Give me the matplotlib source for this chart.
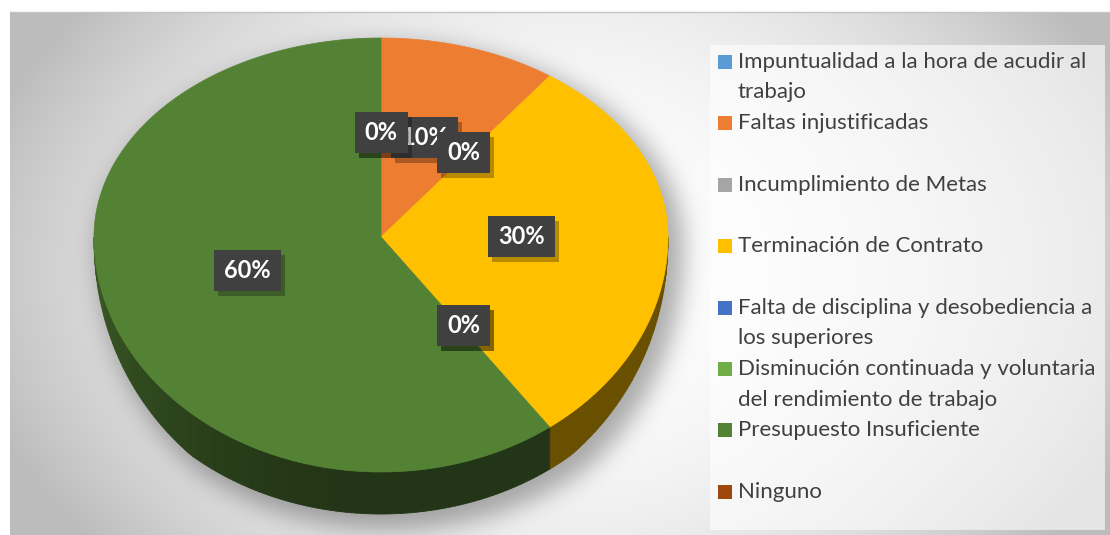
import numpy as np
import matplotlib
matplotlib.use("Agg")
import matplotlib.pyplot as plt
from matplotlib.patches import Polygon, Rectangle
from matplotlib.path import Path
import textwrap

# ---------------- data ----------------
categories = [
    "Impuntualidad a la hora de acudir al trabajo",
    "Faltas injustificadas",
    "Incumplimiento de Metas",
    "Terminación de Contrato",
    "Falta de disciplina y desobediencia a los superiores",
    "Disminución continuada y voluntaria del rendimiento de trabajo",
    "Presupuesto Insuficiente",
    "Ninguno",
]
values = [0, 10, 0, 30, 0, 0, 60, 0]
pct_labels = ["0%", "10%", "0%", "30%", "0%", "0%", "60%", "0%"]
colors = ["#5B9BD5", "#ED7D31", "#A5A5A5", "#FFC000",
          "#4472C4", "#70AD47", "#548235", "#9E480E"]

# ---------------- figure ----------------
W, H = 1110, 535
fig = plt.figure(figsize=(W / 100, H / 100), dpi=100)
ax = fig.add_axes([0, 0, 1, 1])
ax.set_xlim(0, W)
ax.set_ylim(H, 0)
ax.axis("off")

FONT = ["Lato", "DejaVu Sans"]

# pie geometry (pixel space)
cx, cy = 381, 237
a, b_top, b_bot = 287, 199, 235


def edge(theta):
    t = np.radians(theta)
    c = np.cos(t)
    x = cx + a * np.sin(t)
    y = cy - np.where(c >= 0, b_top, b_bot) * c
    return x, y


def depth(theta):
    t = np.radians(theta)
    return 42 * np.clip(-np.cos(t) / 0.75, 0, 1) ** 0.8


# ---------------- background ----------------
yy, xx = np.mgrid[0:H, 0:W] + 0.5
dx = (xx - 570) / 560
dy = (yy - 270) / 270
bg = 1 - 0.21 * dx ** 2 - 0.07 * dy ** 2 - 0.05 * (dx * dy) ** 2
bg = np.clip(bg, 0.74, 1.0)
inside = (xx >= 10) & (yy >= 12)
bg = np.where(inside, bg, 1.0)

# soft pie shadow
th = np.linspace(0, 360, 721)
ex, ey = edge(th)
ey_sil = np.where((th > 90) & (th < 270), ey + depth(th), ey)
sx = cx + (ex - cx) * 1.02 + 10
sy = cy + (ey_sil - cy) * 1.02 + 10
path = Path(np.column_stack([sx, sy]))
mask = path.contains_points(np.column_stack([xx.ravel(), yy.ravel()])).reshape(H, W).astype(float)
k = np.exp(-0.5 * (np.arange(-36, 37) / 12.0) ** 2)
k /= k.sum()
mask = np.apply_along_axis(lambda r: np.convolve(r, k, mode="same"), 1, mask)
mask = np.apply_along_axis(lambda c: np.convolve(c, k, mode="same"), 0, mask)
bg = bg * (1 - 0.32 * mask)
img = np.dstack([bg, bg, bg])
ax.imshow(img, extent=(0, W, H, 0), zorder=0, interpolation="bilinear")
ax.plot([10, W], [12, 12], color="#c4c4c4", lw=1, zorder=0.5)

# legend panel background
ax.add_patch(Rectangle((710, 45), 395, 485, facecolor="white", alpha=0.6,
                       edgecolor="none", zorder=1))

# ---------------- pie ----------------
total = float(sum(values))
starts = np.concatenate([[0], np.cumsum(values)[:-1]]) / total * 360
spans = np.array(values) / total * 360


def shade(hexcol, f):
    rgb = np.array(matplotlib.colors.to_rgb(hexcol))
    return tuple(rgb * f)


def side_factor(theta):
    return 0.41 + 0.31 * np.clip((theta - 190) / 80, 0, 1) ** 1.3


# sides
for s, sp, col in zip(starts, spans, colors):
    if sp <= 0:
        continue
    lo, hi = max(s, 90), min(s + sp, 270)
    if hi <= lo:
        continue
    n = max(2, int(hi - lo))
    tt = np.linspace(lo, hi, n + 1)
    for t1, t2 in zip(tt[:-1], tt[1:]):
        x1, y1 = edge(t1)
        x2, y2 = edge(t2)
        poly = [(x1, y1), (x2, y2), (x2, y2 + depth(t2)), (x1, y1 + depth(t1))]
        c = shade(col, side_factor((t1 + t2) / 2))
        ax.add_patch(Polygon(poly, closed=True, facecolor=c, edgecolor=c,
                             lw=0.6, zorder=2))

# top faces
for s, sp, col in zip(starts, spans, colors):
    if sp <= 0:
        continue
    tt = np.linspace(s, s + sp, max(3, int(sp * 2)))
    x, y = edge(tt)
    pts = [(cx, cy)] + list(zip(x, y))
    ax.add_patch(Polygon(pts, closed=True, facecolor=col, edgecolor=col,
                         lw=0.5, zorder=3))

# ---------------- data labels ----------------
fig.canvas.draw()
renderer = fig.canvas.get_renderer()
for i, (s, sp, lab) in enumerate(zip(starts, spans, pct_labels)):
    mid = s + sp / 2
    exm, eym = edge(mid)
    lx = cx + 0.49 * (exm - cx)
    ry = 0.52 if eym < cy else 0.47
    ly = cy + ry * (eym - cy) - 1
    z = 10 + i
    t = ax.text(lx, ly, lab, ha="center", va="center", color="white",
                fontsize=17, fontweight="bold", family=FONT, zorder=z + 0.5)
    bb = t.get_window_extent(renderer)
    w = bb.width + 20
    h = 41
    ax.add_patch(Rectangle((lx - w / 2 + 4, ly - h / 2 + 5), w, h,
                           facecolor="black", alpha=0.28, edgecolor="none",
                           zorder=z + 0.1))
    ax.add_patch(Rectangle((lx - w / 2, ly - h / 2), w, h,
                           facecolor="#404040", edgecolor="none",
                           zorder=z + 0.2))

# ---------------- legend ----------------
leg_y0, leg_dy = 62, 61.4
for i, (cat, col) in enumerate(zip(categories, colors)):
    y = leg_y0 + i * leg_dy
    ax.add_patch(Rectangle((718, y - 7), 14, 14, facecolor=col,
                           edgecolor="none", zorder=5))
    lines = textwrap.wrap(cat, 37)
    for j, ln in enumerate(lines):
        ax.text(738, y + j * 30.5, ln, ha="left", va="center",
                fontsize=16, color="#404040", family=FONT, zorder=5)

fig.savefig("out.png", dpi=100)
